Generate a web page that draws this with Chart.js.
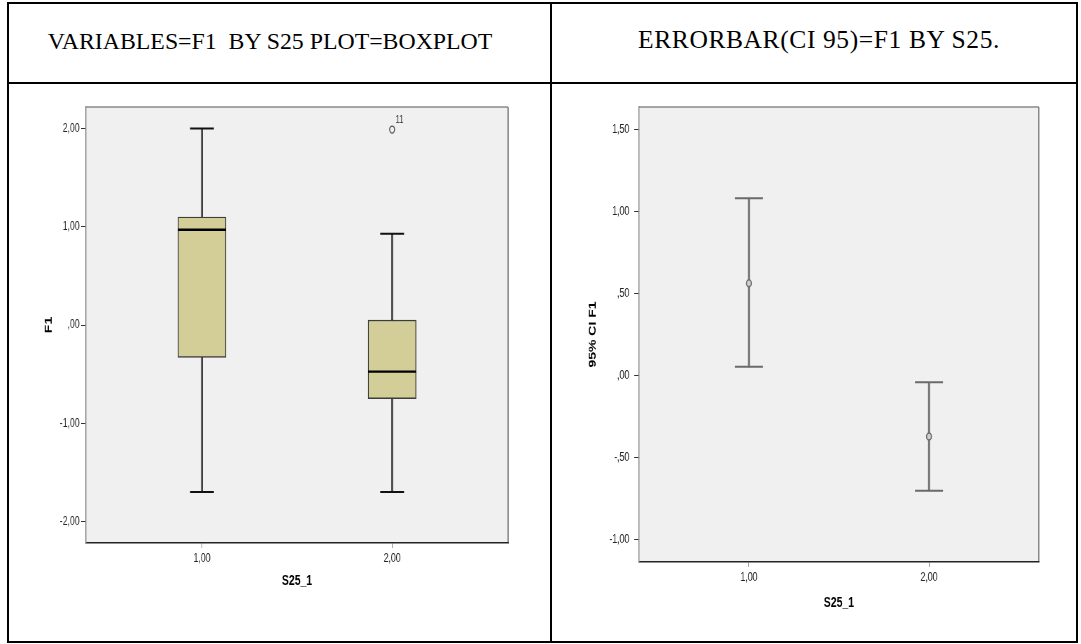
<!DOCTYPE html>
<html>
<head>
<meta charset="utf-8">
<script src="https://cdn.jsdelivr.net/npm/chart.js@4"></script>
<style>
  body { margin: 0; background: #fff; width: 1081px; height: 644px; overflow: hidden; position: relative; }
  .ln { position: absolute; background: #000; }
  .hd { position: absolute; top: 29px; width: 500px; text-align: center; white-space: nowrap;
        font-family: 'Liberation Serif', 'Times New Roman', serif; font-size: 23.8px; line-height: 24px; color: #000; }
  /* the SPSS pictures in the document are squeezed sideways, so the canvases are too */
  canvas { position: absolute; top: 85px; transform-origin: 0 0; transform: scaleX(0.7); }
</style>
</head>
<body>
<div class="ln" style="left:7px;top:2px;width:1071px;height:2px"></div>
<div class="ln" style="left:7px;top:641px;width:1071px;height:2px"></div>
<div class="ln" style="left:7px;top:2px;width:2px;height:641px"></div>
<div class="ln" style="left:1076px;top:2px;width:2px;height:641px"></div>
<div class="ln" style="left:550px;top:2px;width:2px;height:641px"></div>
<div class="ln" style="left:7px;top:82px;width:1071px;height:2px"></div>

<div class="hd" style="left:20px">VARIABLES=F1&nbsp; BY S25 PLOT=BOXPLOT</div>
<div class="hd" style="left:569px;top:28px;font-size:25.5px;letter-spacing:0.6px">ERRORBAR(CI 95)=F1 BY S25.</div>

<canvas id="BoxPlot" width="772" height="554" style="left:9px"></canvas>
<canvas id="ErrorBar" width="746" height="554" style="left:553px"></canvas>

<script>
const groups = [1, 2]
const groupTicks = [1, 2]

// boxplot of F1 by S25_1
const boxMin = [-1.70, -1.70]
const boxQ1 = [-0.33, -0.75]
const boxMedian = [0.97, -0.475]
const boxQ3 = [1.10, 0.05]
const boxMax = [2.00, 0.93]
const outlierGroup = [2]
const outlierValue = [1.99]
const outlierCase = ["11"]
const boxTicks = [-2, -1, 0, 1, 2]

// 95% CI of the mean of F1
const ciMean = [0.563, -0.37]
const ciLow = [0.054, -0.70]
const ciHigh = [1.08, -0.04]
const ciTicks = [-1, -0.5, 0, 0.5, 1, 1.5]

// spss style numbers: 1,00  ,50  -,50
function spss(v) {
      let s = Math.abs(v).toFixed(2).replace(".", ",")
      if (s.startsWith("0,")) s = s.slice(1)
      return (v < 0 ? "-" : "") + s
}

const tickFont = {family: "'Liberation Sans', Arial, sans-serif", size: 12.5}
const titleFont = {family: "'Liberation Sans', Arial, sans-serif", size: 15, weight: "bold"}

// grey plot background plus the grey top and right edges of the frame
const frame = {
      id: "frame",
      beforeDraw(chart) {
            const {ctx, chartArea: a} = chart
            ctx.save()
            ctx.fillStyle = "#f0f0f0"
            ctx.fillRect(a.left, a.top, a.right - a.left, a.bottom - a.top)
            ctx.strokeStyle = "#8a8a8a"
            ctx.lineWidth = 1.5
            ctx.beginPath(); ctx.moveTo(a.left, a.top); ctx.lineTo(a.right, a.top); ctx.stroke()
            ctx.lineWidth = 2
            ctx.beginPath(); ctx.moveTo(a.right, a.top); ctx.lineTo(a.right, a.bottom); ctx.stroke()
            ctx.restore()
      }
}

// case number next to each outlier
const caseLabels = {
      id: "caseLabels",
      afterDatasetsDraw(chart) {
            const {ctx} = chart
            chart.data.datasets.forEach((ds, i) => {
                  if (ds.label !== "outliers") return
                  ctx.save()
                  ctx.font = "11px 'Liberation Sans', Arial, sans-serif"
                  ctx.fillStyle = "#333"
                  ctx.textAlign = "left"
                  ctx.textBaseline = "bottom"
                  chart.getDatasetMeta(i).data.forEach((pt, j) => ctx.fillText(outlierCase[j], pt.x + 5, pt.y - 4))
                  ctx.restore()
            })
      }
}

function axes(o) {
      return {
            x: {
                  type: "linear", min: 0.39, max: 2.61, offset: false,
                  afterBuildTicks: s => { s.ticks = groupTicks.map(v => ({value: v})) },
                  afterFit: s => { s.height = o.xHeight },
                  ticks: {callback: spss, color: "#222", font: tickFont, padding: 3, maxRotation: 0},
                  grid: {drawOnChartArea: false, tickLength: 5, color: "#888", offset: false},
                  border: {color: "#222", width: 1.5},
                  title: {display: true, text: "S25_1", color: "#000", font: titleFont, padding: {top: 0, bottom: o.xTitlePad}}
            },
            y: {
                  type: "linear", min: o.yMin, max: o.yMax,
                  afterBuildTicks: s => { s.ticks = o.yTicks.map(v => ({value: v})) },
                  afterFit: s => { s.width = o.yWidth },
                  ticks: {callback: spss, color: "#222", font: tickFont, padding: o.yTickPad},
                  grid: {drawOnChartArea: false, tickLength: 7, color: "#333"},
                  border: {color: "#8a8a8a", width: 1.5},
                  title: {display: true, text: o.yTitle, color: "#000", font: {...titleFont, size: 14}, padding: {top: 48.6, bottom: 0}}
            }
      }
}

new Chart("BoxPlot", {
      type: "bar",
      data: {datasets: [
            {type: "scatter", label: "median", data: groups.map((g, i) => ({x: g, y: boxMedian[i]})),
             pointStyle: "line", pointRadius: 34.3, pointBorderColor: "#000", pointBorderWidth: 2.3, order: 0},
            {type: "scatter", label: "caps", data: groups.map((g, i) => ({x: g, y: boxMax[i]})).concat(groups.map((g, i) => ({x: g, y: boxMin[i]}))),
             pointStyle: "line", pointRadius: 17, pointBorderColor: "#111", pointBorderWidth: 2, order: 1},
            {type: "scatter", label: "outliers", data: outlierGroup.map((g, i) => ({x: g, y: outlierValue[i]})),
             pointStyle: "circle", pointRadius: 3.5, pointBorderColor: "#555", pointBorderWidth: 1.4, pointBackgroundColor: "rgba(0,0,0,0)", order: 2},
            {type: "bar", label: "box", data: groups.map((g, i) => ({x: g, y: [boxQ1[i], boxQ3[i]]})),
             backgroundColor: "#d3ce97", borderColor: "#3c3c3c", borderWidth: 1.4, borderSkipped: false,
             barThickness: 68.6, grouped: false, order: 3},
            {type: "bar", label: "whiskers", data: groups.map((g, i) => ({x: g, y: [boxMin[i], boxMax[i]]})),
             backgroundColor: "#3a3a3a", barThickness: 1.9, grouped: false, order: 4}
      ]},
      options: {
            responsive: false, animation: false, events: [], devicePixelRatio: 1,
            layout: {autoPadding: false, padding: {top: 22, right: 59, left: 0, bottom: 0}},
            plugins: {legend: {display: false}, tooltip: {enabled: false}},
            scales: axes({xHeight: 96, xTitlePad: 49, yMin: -2.22, yMax: 2.22, yTicks: boxTicks, yWidth: 110, yTickPad: 2, yTitle: "F1"})
      },
      plugins: [frame, caseLabels]
})

new Chart("ErrorBar", {
      type: "bar",
      data: {datasets: [
            {type: "scatter", label: "mean", data: groups.map((g, i) => ({x: g, y: ciMean[i]})),
             pointStyle: "circle", pointRadius: 3.5, pointBorderColor: "#6a6a6a", pointBorderWidth: 1.5, pointBackgroundColor: "#d0d0d0", order: 0},
            {type: "scatter", label: "caps", data: groups.map((g, i) => ({x: g, y: ciHigh[i]})).concat(groups.map((g, i) => ({x: g, y: ciLow[i]}))),
             pointStyle: "line", pointRadius: 20, pointBorderColor: "#6a6a6a", pointBorderWidth: 2, order: 1},
            {type: "bar", label: "ci", data: groups.map((g, i) => ({x: g, y: [ciLow[i], ciHigh[i]]})),
             backgroundColor: "#6a6a6a", barThickness: 2, grouped: false, order: 2}
      ]},
      options: {
            responsive: false, animation: false, events: [], devicePixelRatio: 1,
            layout: {autoPadding: false, padding: {top: 22, right: 52, left: 0, bottom: 0}},
            plugins: {legend: {display: false}, tooltip: {enabled: false}},
            scales: axes({xHeight: 77, xTitlePad: 27, yMin: -1.134, yMax: 1.636, yTicks: ciTicks, yWidth: 123, yTickPad: 7, yTitle: "95% CI F1"})
      },
      plugins: [frame]
})
</script>
</body>
</html>
